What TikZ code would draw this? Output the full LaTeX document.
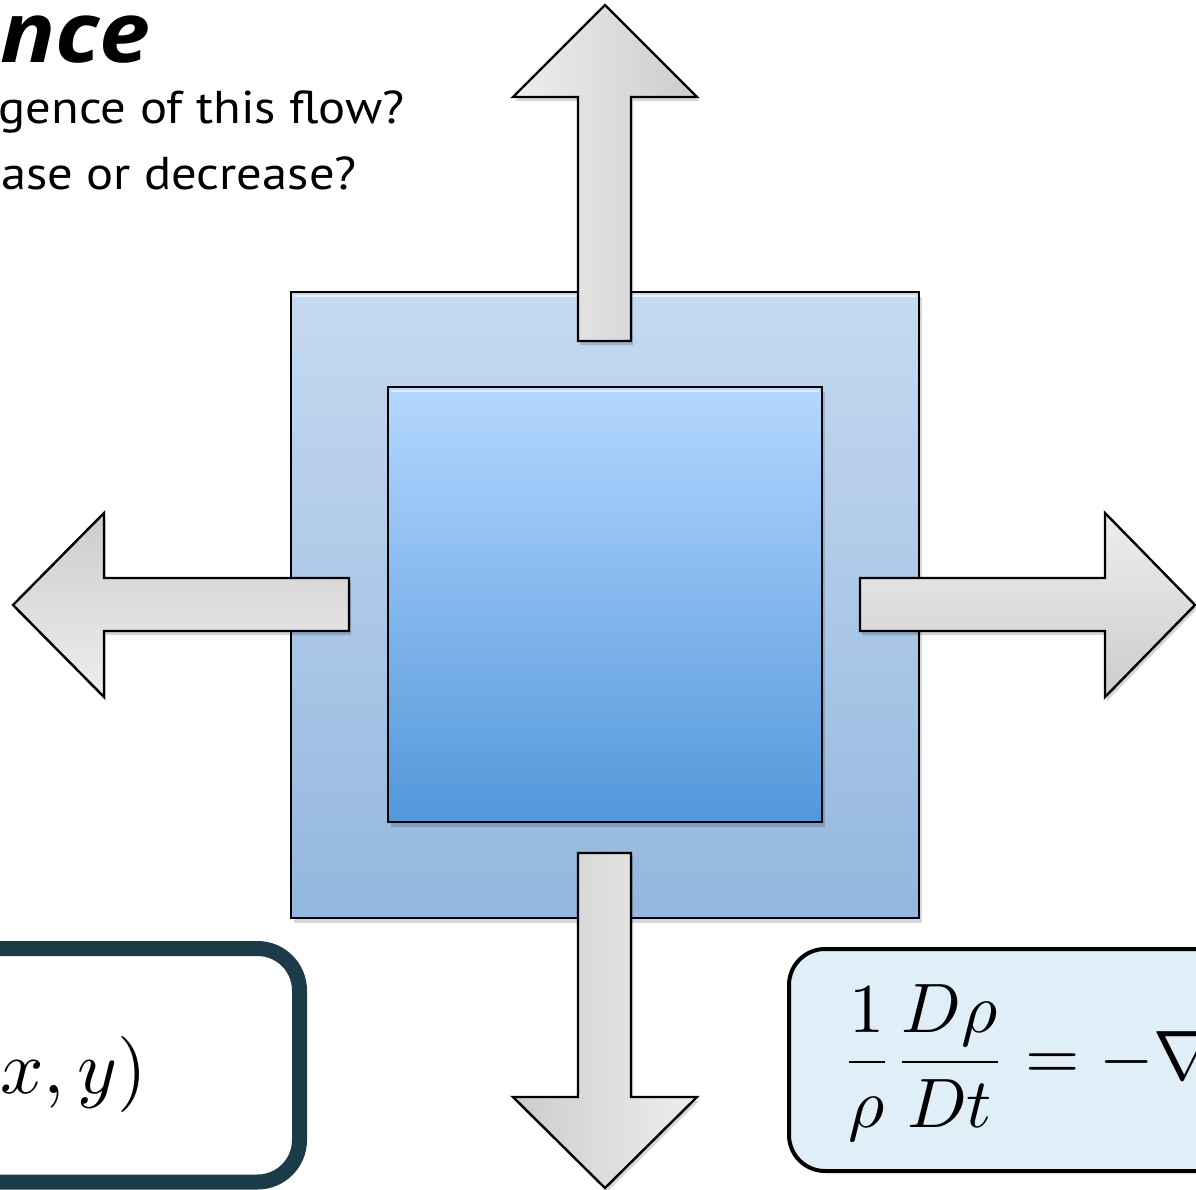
\documentclass[tikz,border=0pt]{standalone}
\usepackage[no-math]{fontspec}
\newfontfamily\qfont{PT Sans}
\newfontfamily\tfont{Open Sans}
\definecolor{outtop}{HTML}{C6D9F1}
\definecolor{outbot}{HTML}{93B7DE}
\definecolor{intop}{HTML}{B4D7FF}
\definecolor{inbot}{HTML}{5397DB}
\definecolor{arlight}{HTML}{EEEEEE}
\definecolor{ardark}{HTML}{CCCCCC}
\definecolor{boxdark}{HTML}{1A3B47}
\definecolor{eqfill}{HTML}{DFEEF7}
\begin{document}
\begin{tikzpicture}[x=1pt,y=-1pt,
  sq/.style={draw=black, line width=2.4pt},
  arr/.style={draw=black, line width=2.4pt, line join=miter},
  shade/.style={fill=black, opacity=0.16},
  qtext/.style={font=\qfont\fontsize{46}{66}\selectfont, inner sep=0pt},
  ttext/.style={font=\tfont\bfseries\itshape\fontsize{84}{100}\selectfont, inner sep=0pt},
  mtext/.style={inner sep=0pt}
]
\useasboundingbox (0,0) rectangle (1196,1190);

% title and question fragments
\node[ttext, anchor=base east] (title) at (151,63) {\scalebox{1.09}[1]{nce}};
\node[qtext, anchor=base east] (q1) at (405,124) {\scalebox{1.1}[1]{gence of this flow?}};
\node[qtext, anchor=base east] (q2) at (357,190) {\scalebox{1.1}[1]{ase or decrease?}};

% squares
\fill[shade] (294,297) rectangle (922,923);
\path[sq, top color=outtop, bottom color=outbot] (291,292) rectangle (919,918);
\draw[white, opacity=0.6, line width=2pt] (294,296) -- (916,296);
\fill[shade] (391,392) rectangle (825,827);
\path[sq, top color=intop, bottom color=inbot] (388,387) rectangle (822,822);
\draw[white, opacity=0.5, line width=2pt] (391,391) -- (819,391);

% arrows (shadows)
\fill[shade] (607,9) -- (699,101) -- (633,101) -- (633,345) -- (580,345) -- (580,101) -- (515,101) -- cycle;
\fill[shade] (15,609) -- (106,517) -- (106,582) -- (351,582) -- (351,635) -- (106,635) -- (106,701) -- cycle;
\fill[shade] (1197,609) -- (1107,517) -- (1107,582) -- (862,582) -- (862,635) -- (1107,635) -- (1107,701) -- cycle;
\fill[shade] (580,857) -- (633,857) -- (633,1101) -- (699,1101) -- (607,1192) -- (515,1101) -- (580,1101) -- cycle;

% up arrow
\path[arr, left color=arlight, right color=ardark]
  (605,5) -- (697,97) -- (631,97) -- (631,341) -- (578,341) -- (578,97) -- (513,97) -- cycle;
% left arrow
\path[arr, top color=ardark, bottom color=arlight]
  (13,605) -- (104,513) -- (104,578) -- (349,578) -- (349,631) -- (104,631) -- (104,697) -- cycle;
% right arrow
\path[arr, top color=arlight, bottom color=ardark]
  (1195,605) -- (1105,513) -- (1105,578) -- (860,578) -- (860,631) -- (1105,631) -- (1105,697) -- cycle;
% down arrow
\path[arr, left color=ardark, right color=arlight]
  (578,853) -- (631,853) -- (631,1097) -- (697,1097) -- (605,1188) -- (513,1097) -- (578,1097) -- cycle;

% bottom-left box
\draw[line width=15pt, draw=boxdark, fill=white, rounded corners=42pt] (-80,948.5) rectangle (299.5,1182);
\node[mtext, anchor=base east] (xy) at (147,1093) {\fontsize{10}{12}\selectfont\scalebox{7.6}{$x,y)$}};

% bottom-right box
\draw[line width=4pt, draw=black, fill=eqfill, rounded corners=36pt] (789,949) rectangle (1280,1171);
\node[mtext, anchor=base west] (eq) at (840,1079.5) {\fontsize{10}{12}\selectfont\scalebox{7}{$\displaystyle\frac{1}{\rho}\frac{D\rho}{Dt}=-\nabla$}};
\end{tikzpicture}
\end{document}
